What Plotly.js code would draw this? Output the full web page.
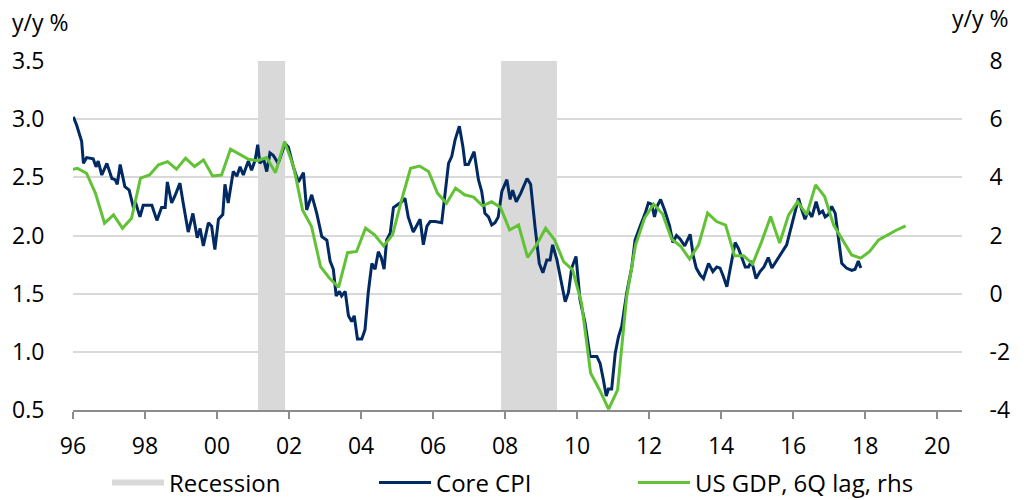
<!DOCTYPE html>
<html><head><meta charset="utf-8">
<script src="https://cdn.plot.ly/plotly-3.0.1.min.js"></script>
<style>html,body{margin:0;padding:0;background:#fff;} #chart{width:1027px;height:500px;}</style>
</head><body><div id="chart"></div>
<script>
// Core CPI, y/y % (left axis), dates as decimal years
const cpiDates = [1996.01,1996.10,1996.24,1996.29,1996.38,1996.56,1996.64,1996.70,1996.80,1996.94,
1997.08,1997.17,1997.23,1997.31,1997.44,1997.56,1997.67,1997.75,1997.86,1997.95,
1998.19,1998.33,1998.46,1998.56,1998.62,1998.74,1998.83,1998.97,
1999.06,1999.20,1999.33,1999.45,1999.53,1999.62,1999.76,1999.85,1999.94,
2000.04,2000.16,2000.22,2000.31,2000.45,2000.55,2000.64,2000.73,2000.87,2000.96,
2001.06,2001.13,2001.19,2001.29,2001.38,2001.47,2001.56,2001.70,2001.80,2001.89,2001.98,
2002.12,2002.26,2002.40,2002.49,2002.63,2002.77,2002.91,
2003.05,2003.14,2003.23,2003.31,2003.40,2003.46,2003.56,2003.65,2003.74,2003.81,2003.90,
2004.02,2004.11,2004.20,2004.30,2004.39,2004.48,2004.56,2004.64,2004.71,2004.81,2004.90,2004.99,
2005.13,2005.22,2005.31,2005.45,2005.55,2005.64,2005.73,2005.83,2005.92,
2006.06,2006.24,2006.33,2006.43,2006.52,2006.61,2006.73,2006.83,2006.89,2006.98,
2007.14,2007.26,2007.35,2007.44,2007.54,2007.63,2007.72,2007.81,2007.91,
2008.05,2008.14,2008.21,2008.31,2008.43,2008.61,2008.71,2008.83,2008.95,
2009.05,2009.16,2009.25,2009.32,2009.44,2009.58,2009.67,2009.76,2009.85,2009.97,
2010.08,2010.22,2010.36,2010.55,2010.64,2010.73,2010.81,2010.87,2010.96,
2011.06,2011.15,2011.24,2011.38,2011.52,2011.61,2011.75,2011.89,2011.98,
2012.07,2012.15,2012.22,2012.32,2012.44,2012.57,2012.66,2012.76,2012.86,2012.99,
2013.14,2013.23,2013.31,2013.42,2013.51,2013.65,2013.77,2013.88,2013.97,
2014.06,2014.16,2014.25,2014.39,2014.48,2014.57,2014.67,2014.76,2014.85,2014.97,
2015.08,2015.19,2015.31,2015.41,2015.55,2015.69,2015.82,2015.96,
2016.06,2016.15,2016.24,2016.33,2016.42,2016.52,2016.64,2016.73,2016.82,2016.89,2016.98,
2017.07,2017.17,2017.26,2017.35,2017.48,2017.63,2017.72,2017.81,2017.88];
const cpiValues = [3.02,2.95,2.81,2.62,2.67,2.66,2.59,2.64,2.52,2.62,
2.49,2.48,2.44,2.61,2.42,2.39,2.25,2.27,2.16,2.26,
2.26,2.13,2.24,2.24,2.46,2.28,2.34,2.45,
2.28,2.03,2.19,1.98,2.06,1.91,2.11,2.08,1.88,
2.14,2.18,2.44,2.28,2.55,2.51,2.59,2.52,2.64,2.56,
2.65,2.78,2.62,2.66,2.55,2.71,2.69,2.62,2.71,2.79,2.76,
2.59,2.46,2.54,2.22,2.35,2.19,1.99,
1.96,1.78,1.71,1.48,1.52,1.48,1.52,1.31,1.26,1.31,1.11,
1.11,1.19,1.51,1.76,1.71,1.86,1.81,1.71,1.96,2.02,2.24,2.26,
2.29,2.32,2.16,2.03,2.09,2.14,1.92,2.08,2.12,
2.12,2.11,2.34,2.62,2.68,2.82,2.94,2.76,2.61,2.61,
2.72,2.48,2.38,2.19,2.16,2.09,2.11,2.16,2.38,
2.48,2.31,2.39,2.29,2.36,2.49,2.44,2.08,1.76,
1.68,1.79,1.79,1.92,1.79,1.56,1.43,1.51,1.72,1.82,
1.45,1.25,0.96,0.96,0.90,0.76,0.62,0.68,0.68,
0.99,1.13,1.22,1.51,1.73,1.96,2.08,2.19,2.28,
2.27,2.16,2.25,2.31,2.21,2.08,1.94,2.00,1.97,1.91,
2.01,1.82,1.72,1.66,1.63,1.76,1.69,1.73,1.72,
1.65,1.56,1.71,1.94,1.89,1.82,1.73,1.73,1.78,1.63,
1.69,1.73,1.81,1.72,1.79,1.86,1.92,2.09,
2.22,2.32,2.22,2.14,2.21,2.16,2.29,2.19,2.21,2.16,2.18,
2.25,2.19,1.98,1.76,1.72,1.70,1.71,1.78,1.72];

// US GDP y/y %, lagged 6 quarters (right axis); quarterly, first point mid-Q4 1995
const gdpStart = 1995.875;
const gdpStep = 0.25;
const gdpValues = [4.25,4.31,4.14,3.45,2.42,2.71,2.25,2.59,3.97,4.08,
4.43,4.54,4.28,4.66,4.37,4.60,4.05,4.08,4.97,4.79,
4.62,4.57,4.68,4.16,5.23,4.37,2.88,2.31,0.93,0.53,
0.22,1.41,1.45,2.25,2.02,1.64,2.02,3.22,4.31,4.39,
4.20,3.45,3.11,3.63,3.40,3.32,3.02,3.16,2.96,2.19,
2.36,1.25,1.68,2.25,1.85,1.10,0.82,-0.33,-2.73,-3.31,
-3.97,-3.31,-0.12,1.68,2.60,3.08,2.74,1.88,1.63,1.19,
1.68,2.77,2.48,2.36,1.30,1.30,1.02,1.79,2.65,1.74,
2.71,3.16,2.71,3.74,3.34,2.36,1.85,1.33,1.22,1.45,
1.85,2.02,2.19,2.33];
const gdpDates = gdpValues.map((v, i) => gdpStart + gdpStep * i);

// US recessions (decimal years)
const recessionStarts = [2001.14, 2007.89];
const recessionEnds = [2001.89, 2009.44];

const xTickVals = [1996,1998,2000,2002,2004,2006,2008,2010,2012,2014,2016,2018,2020];
const xTickText = ['96','98','00','02','04','06','08','10','12','14','16','18','20'];
const rightTickVals = [-4,-2,0,2,4,6,8];
const rightTickText = ['-4','-2','0','2','4','6','8'];
const leftRange = [0.5, 3.5];
const rightRange = [-4, 8];

const recX = [], recY = [];
recessionStarts.forEach((s, i) => {
  const e = recessionEnds[i];
  recX.push(s, s, e, e, s, null);
  recY.push(leftRange[0], leftRange[1], leftRange[1], leftRange[0], leftRange[0], null);
});

const FONT = 'Open Sans, Noto Sans, sans-serif';
const traces = [
  {x: recX, y: recY, name: 'Recession', type: 'scatter', mode: 'none', fill: 'toself',
   fillcolor: '#d9d9d9', hoverinfo: 'skip', yaxis: 'y', legend: 'legend'},
  {x: cpiDates, y: cpiValues, name: 'Core CPI', type: 'scatter', mode: 'lines',
   line: {color: '#012a62', width: 3}, yaxis: 'y', legend: 'legend2'},
  {x: gdpDates, y: gdpValues, name: 'US GDP, 6Q lag, rhs', type: 'scatter', mode: 'lines',
   line: {color: '#62c236', width: 3}, yaxis: 'y2', legend: 'legend3'}
];

const legendBase = {orientation: 'h', xanchor: 'left', y: -0.209, yanchor: 'middle',
  itemwidth: 52, bgcolor: 'rgba(0,0,0,0)', font: {family: FONT, size: 24, color: '#000'}};

const layout = {
  width: 1027, height: 500,
  margin: {l: 73, r: 65, t: 61, b: 90, autoexpand: false},
  paper_bgcolor: '#fff', plot_bgcolor: '#fff',
  font: {family: FONT, size: 23, color: '#000'},
  showlegend: true,
  legend: Object.assign({}, legendBase, {x: 0.0383}),
  legend2: Object.assign({}, legendBase, {x: 0.3386}),
  legend3: Object.assign({}, legendBase, {x: 0.6299}),
  xaxis: {range: [1996, 2020.69], tickvals: xTickVals, ticktext: xTickText,
    showgrid: false, zeroline: false, showline: true, linecolor: '#8c8c8c', linewidth: 2,
    ticks: 'outside', ticklen: 7, tickwidth: 2, tickcolor: '#8c8c8c', ticklabelstandoff: 7,
    tickfont: {family: FONT, size: 23, color: '#000'}, fixedrange: true},
  yaxis: {range: leftRange, dtick: 0.5, tick0: 0.5, tickformat: '.1f',
    showgrid: true, gridcolor: '#d9d9d9', gridwidth: 2, zeroline: false, showline: false,
    ticks: 'outside', ticklen: 23, tickcolor: 'rgba(0,0,0,0)',
    tickfont: {family: FONT, size: 23, color: '#000'}},
  yaxis2: {range: rightRange, tickvals: rightTickVals, ticktext: rightTickText, overlaying: 'y', side: 'right',
    showgrid: false, zeroline: false, showline: false,
    ticks: 'outside', ticklen: 22, tickcolor: 'rgba(0,0,0,0)',
    tickfont: {family: FONT, size: 23, color: '#000'}},
  annotations: [
    {text: 'y/y %', xref: 'paper', yref: 'paper', x: -0.0709, y: 1.112, xanchor: 'left', yanchor: 'middle',
     showarrow: false, font: {family: FONT, size: 23, color: '#000'}},
    {text: 'y/y %', xref: 'paper', yref: 'paper', x: 1.054, y: 1.123, xanchor: 'right', yanchor: 'middle',
     showarrow: false, font: {family: FONT, size: 23, color: '#000'}}
  ]
};

Plotly.newPlot('chart', traces, layout, {displayModeBar: false, staticPlot: true});
</script></body></html>
